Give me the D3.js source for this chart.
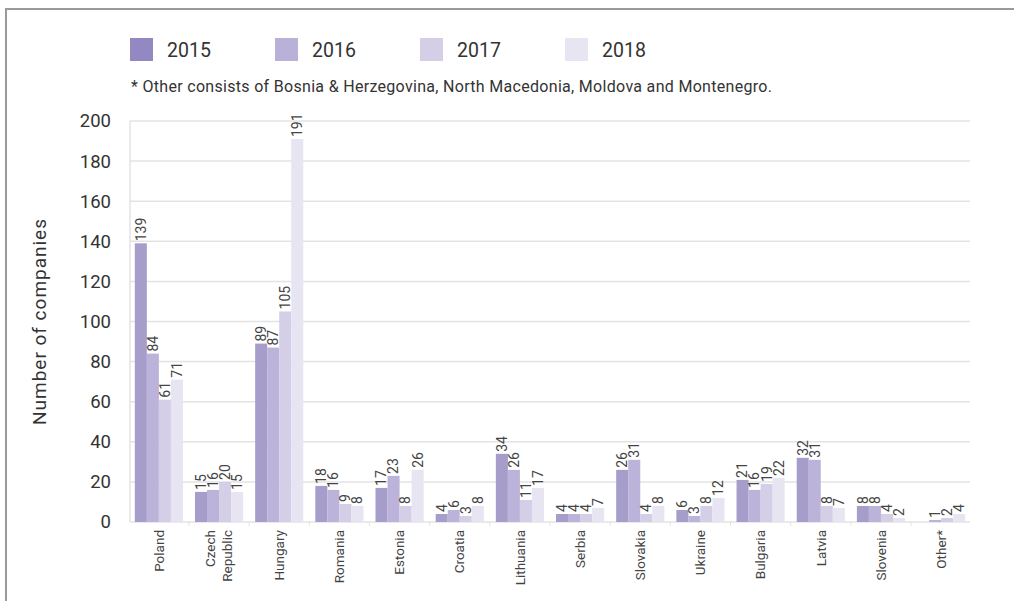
<!DOCTYPE html>
<meta charset="utf-8">
<script src="https://cdn.jsdelivr.net/npm/d3@7/dist/d3.min.js"></script>
<style>
body { margin: 0; background: #fff; }
text { font-family: Roboto, "Noto Sans", sans-serif; fill: #333; }
.grid line { stroke: #e3e3e3; stroke-width: 1.5px; }
.val { font-size: 14px; fill: #444; }
.xlab { font-size: 13.5px; fill: #444; }
</style>
<body>
<script>

// data
var countries = ["Poland", "Czech Republic", "Hungary", "Romania", "Estonia", "Croatia",
  "Lithuania", "Serbia", "Slovakia", "Ukraine", "Bulgaria", "Latvia", "Slovenia", "Other*"];
var years = ["2015", "2016", "2017", "2018"];
var v2015 = [139, 15, 89, 18, 17, 4, 34, 4, 26, 6, 21, 32, 8, 0];
var v2016 = [84, 16, 87, 16, 23, 6, 26, 4, 31, 3, 16, 31, 8, 1];
var v2017 = [61, 20, 105, 9, 8, 3, 11, 4, 4, 8, 19, 8, 4, 2];
var v2018 = [71, 15, 191, 8, 26, 8, 17, 7, 8, 12, 22, 7, 2, 4];
var yTicks = [0, 20, 40, 60, 80, 100, 120, 140, 160, 180, 200];
var footnote = "* Other consists of Bosnia & Herzegovina, North Macedonia, Moldova and Montenegro.";

var series = [v2015, v2016, v2017, v2018];
var barColour = ["#a69dcb", "#bbb3d9", "#d4cfe7", "#e7e5f2"];
var keyColour = ["#9488c2", "#b9b1d8", "#d4cfe7", "#e7e5f2"];

var width = 1014,
    height = 601;

var svg = d3.select("body").append("svg")
    .attr("width", width)
    .attr("height", height);

// frame
svg.append("path")
    .attr("d", "M6,601V9H1014")
    .attr("fill", "none")
    .attr("stroke", "#9a9a9a")
    .attr("stroke-width", 2);

var x = d3.scaleBand()
    .domain(countries)
    .range([130, 970])
    .paddingInner(0.2)
    .paddingOuter(0.08);

var xs = d3.scaleBand()
    .domain(years)
    .range([0, x.bandwidth()]);

var y = d3.scaleLinear()
    .domain([0, 200])
    .range([522, 121]);

// gridlines
svg.append("g")
    .attr("class", "grid")
    .selectAll("line")
    .data(yTicks)
  .enter().append("line")
    .attr("x1", 130)
    .attr("x2", 970)
    .attr("y1", function(d) { return y(d); })
    .attr("y2", function(d) { return y(d); });

svg.append("line")
    .attr("x1", 130).attr("x2", 130)
    .attr("y1", y(200)).attr("y2", y(0))
    .attr("stroke", "#e3e3e3")
    .attr("stroke-width", 1.5);

// y axis
var yAxis = svg.append("g")
    .attr("transform", "translate(111,0)")
    .call(d3.axisLeft(y).tickValues(yTicks).tickSize(0).tickPadding(0));
yAxis.select(".domain").remove();
yAxis.selectAll("text")
    .style("font-size", "18.5px")
    .style("font-family", "Roboto, sans-serif")
    .attr("fill", "#333");

svg.append("text")
    .attr("transform", "translate(46,322) rotate(-90)")
    .attr("text-anchor", "middle")
    .style("font-size", "19px")
    .attr("textLength", 206)
    .text("Number of companies");

// bars
var group = svg.append("g")
    .selectAll("g")
    .data(countries)
  .enter().append("g")
    .attr("transform", function(d) { return "translate(" + x(d) + ",0)"; });

var cells = group.selectAll("rect")
    .data(function(d, i) {
      return years.map(function(yr, j) { return {year: yr, value: series[j][i], k: j}; });
    })
  .enter();

cells.append("rect")
    .attr("x", function(d) { return xs(d.year); })
    .attr("width", xs.bandwidth())
    .attr("y", function(d) { return y(d.value); })
    .attr("height", function(d) { return y(0) - y(d.value); })
    .attr("fill", function(d) { return barColour[d.k]; });

cells.filter(function(d) { return d.value > 0; })
  .append("text")
    .attr("class", "val")
    .attr("text-anchor", "start")
    .attr("dy", "0.35em")
    .attr("transform", function(d) {
      return "translate(" + (xs(d.year) + xs.bandwidth() / 2) + "," + (y(d.value) - 2) + ") rotate(-90)";
    })
    .text(function(d) { return d.value; });

// small ticks between groups on the baseline
svg.append("g")
    .selectAll("line")
    .data(countries.slice(1))
  .enter().append("line")
    .attr("x1", function(d) { return x(d) - x.step() * x.paddingInner() / 2; })
    .attr("x2", function(d) { return x(d) - x.step() * x.paddingInner() / 2; })
    .attr("y1", y(0))
    .attr("y2", y(0) + 4)
    .attr("stroke", "#e3e3e3");

// category labels
var xl = svg.append("g")
    .selectAll("text")
    .data(countries)
  .enter().append("text")
    .attr("class", "xlab")
    .attr("text-anchor", "end")
    .attr("transform", function(d) {
      return "translate(" + (x(d) + x.bandwidth() / 2) + ",530) rotate(-90)";
    });

xl.each(function(d) {
  var words = d.split(" ");
  var t = d3.select(this);
  if (words.length == 1) {
    t.append("tspan").attr("dy", "0.35em").text(d);
  } else {
    t.append("tspan").attr("x", 0).attr("dy", "-0.3em").text(words[0]);
    t.append("tspan").attr("x", 0).attr("dy", "1.25em").text(words[1]);
  }
});

// legend
var key = svg.append("g")
    .selectAll("g")
    .data(years)
  .enter().append("g")
    .attr("transform", function(d, i) { return "translate(" + (130 + i * 145) + ",38)"; });

key.append("rect")
    .attr("width", 23)
    .attr("height", 23)
    .attr("fill", function(d, i) { return keyColour[i]; });

key.append("text")
    .attr("x", 37)
    .attr("y", 19)
    .style("font-size", "19.5px")
    .text(function(d) { return d; });

svg.append("text")
    .attr("x", 131)
    .attr("y", 92)
    .style("font-size", "16px")
    .attr("textLength", 641)
    .text(footnote);

</script>
</body>
</html>
